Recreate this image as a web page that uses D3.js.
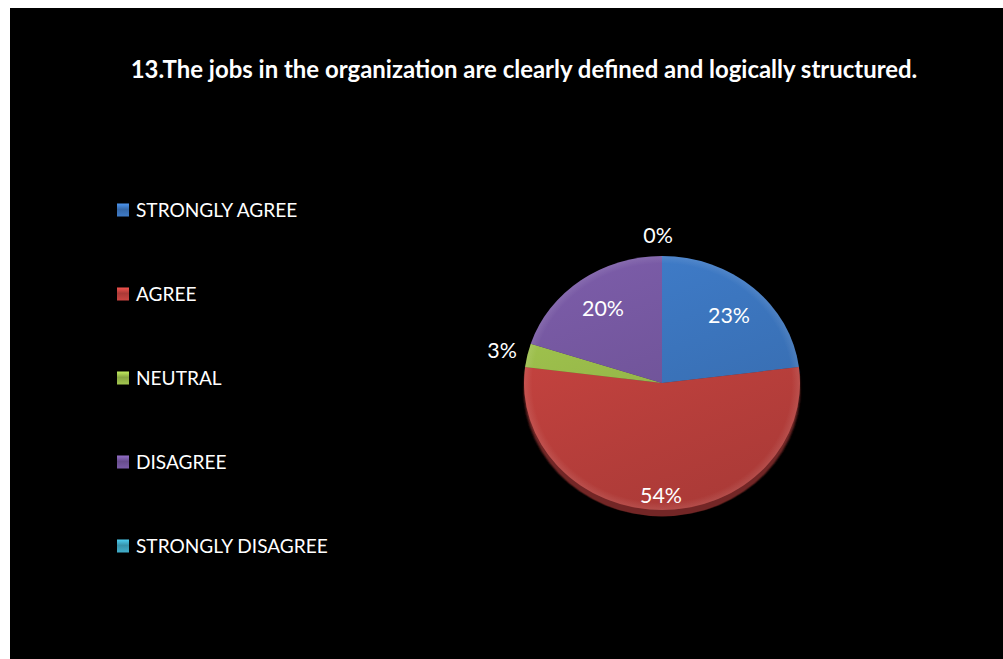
<!DOCTYPE html>
<html>
<head>
<meta charset="utf-8">
<script src="https://cdn.jsdelivr.net/npm/d3@7"></script>
<style>
  html, body { margin: 0; padding: 0; background: #ffffff; }
  svg { display: block; }
  text { font-family: Lato, "Open Sans", "Liberation Sans", sans-serif; fill: #ffffff; }
</style>
</head>
<body>
<svg id="chart" width="1003" height="659"></svg>
<script>
// Survey answers for question 13
const categories = ["STRONGLY AGREE", "AGREE", "NEUTRAL", "DISAGREE", "STRONGLY DISAGREE"];
const percentages = [23, 54, 3, 20, 0];
const pctLabels = ["23%", "54%", "3%", "20%", "0%"];
const sliceColors = ["#3d78c2", "#c4433f", "#9dc04c", "#7759a2", "#3fa8c4"];
const chartTitle = "13.The jobs in the organization are clearly defined and logically structured.";

const W = 1003, H = 659;
const svg = d3.select("#chart");
const defs = svg.append("defs");

// chart area background
svg.append("rect").attr("x", 10).attr("y", 8).attr("width", W - 10).attr("height", H - 8).attr("fill", "#000");

// fit a text node's font size so it spans a given width
function fitFont(sel, target, start) {
  sel.attr("font-size", start);
  const w = sel.node().getComputedTextLength();
  sel.attr("font-size", start * target / w);
  return start * target / w;
}

// title
const title = svg.append("text")
  .attr("x", 524).attr("y", 78)
  .attr("text-anchor", "middle")
  .attr("font-weight", "bold")
  .text(chartTitle);
fitFont(title, 787, 20);

// legend
const legend = svg.append("g");
const legendY = d3.scalePoint().domain(categories).range([210, 546]);
categories.forEach((c, i) => {
  const col = d3.color(sliceColors[i]);
  const g = defs.append("linearGradient").attr("id", "lg" + i)
    .attr("x1", 0).attr("y1", 0).attr("x2", 0).attr("y2", 1);
  g.append("stop").attr("offset", "0%").attr("stop-color", col.brighter(0.6));
  g.append("stop").attr("offset", "45%").attr("stop-color", col.darker(0.4));
  g.append("stop").attr("offset", "100%").attr("stop-color", col.brighter(0.1));
});
const legendSize = (() => {
  const t = svg.append("text").text("STRONGLY DISAGREE");
  const s = fitFont(t, 192, 18);
  t.remove();
  return s;
})();
categories.forEach((c, i) => {
  const y = legendY(c);
  legend.append("rect")
    .attr("x", 117).attr("y", y - 6.5).attr("width", 12).attr("height", 13)
    .attr("fill", "url(#lg" + i + ")");
  legend.append("text")
    .attr("x", 136).attr("y", y).attr("dy", "0.35em")
    .attr("font-size", legendSize)
    .text(c);
});

// pie
const cx = 662, cy = 383, R = 138, yScale = 127 / 138;
const pie = d3.pie().sort(null).value(d => d)(percentages);
const arc = d3.arc().innerRadius(0).outerRadius(R);

sliceColors.forEach((c, i) => {
  const col = d3.color(c);
  const g = defs.append("linearGradient").attr("id", "pg" + i)
    .attr("gradientUnits", "userSpaceOnUse")
    .attr("x1", -R * 0.4).attr("y1", -R).attr("x2", R * 0.4).attr("y2", R);
  g.append("stop").attr("offset", "0%").attr("stop-color", col.brighter(0.1));
  g.append("stop").attr("offset", "100%").attr("stop-color", col.darker(0.4));
});
defs.append("filter").attr("id", "soft").append("feGaussianBlur").attr("stdDeviation", 0.8);

const pieG = svg.append("g").attr("transform", `translate(${cx},${cy}) scale(1,${yScale})`);

// extruded rim under the face
pieG.append("g").attr("transform", "translate(0,7)").attr("filter", "url(#soft)")
  .selectAll("path").data(pie).join("path")
  .attr("d", arc)
  .attr("fill", (d, i) => d3.color(sliceColors[i]).darker(1.5));

// face
pieG.append("g").selectAll("path").data(pie).join("path")
  .attr("d", arc)
  .attr("fill", (d, i) => "url(#pg" + i + ")");

// bevel highlight along the rim
const rimGrad = defs.append("radialGradient").attr("id", "rim")
  .attr("gradientUnits", "userSpaceOnUse").attr("cx", 0).attr("cy", 0).attr("r", R);
rimGrad.append("stop").attr("offset", "94%").attr("stop-color", "#fff").attr("stop-opacity", 0);
rimGrad.append("stop").attr("offset", "100%").attr("stop-color", "#fff").attr("stop-opacity", 0.1);
pieG.append("circle").attr("r", R).attr("fill", "url(#rim)");

// percentage labels
const labelPos = [[729, 316], [661, 496], [502, 351], [603, 309], [658, 236]];
const labelSize = (() => {
  const t = svg.append("text").text("23%");
  const s = fitFont(t, 42, 20);
  t.remove();
  return s;
})();
svg.append("g").selectAll("text").data(pie).join("text")
  .attr("x", (d, i) => labelPos[i][0])
  .attr("y", (d, i) => labelPos[i][1])
  .attr("text-anchor", "middle")
  .attr("dy", "0.35em")
  .attr("font-size", labelSize)
  .text((d, i) => pctLabels[i]);
</script>
</body>
</html>
